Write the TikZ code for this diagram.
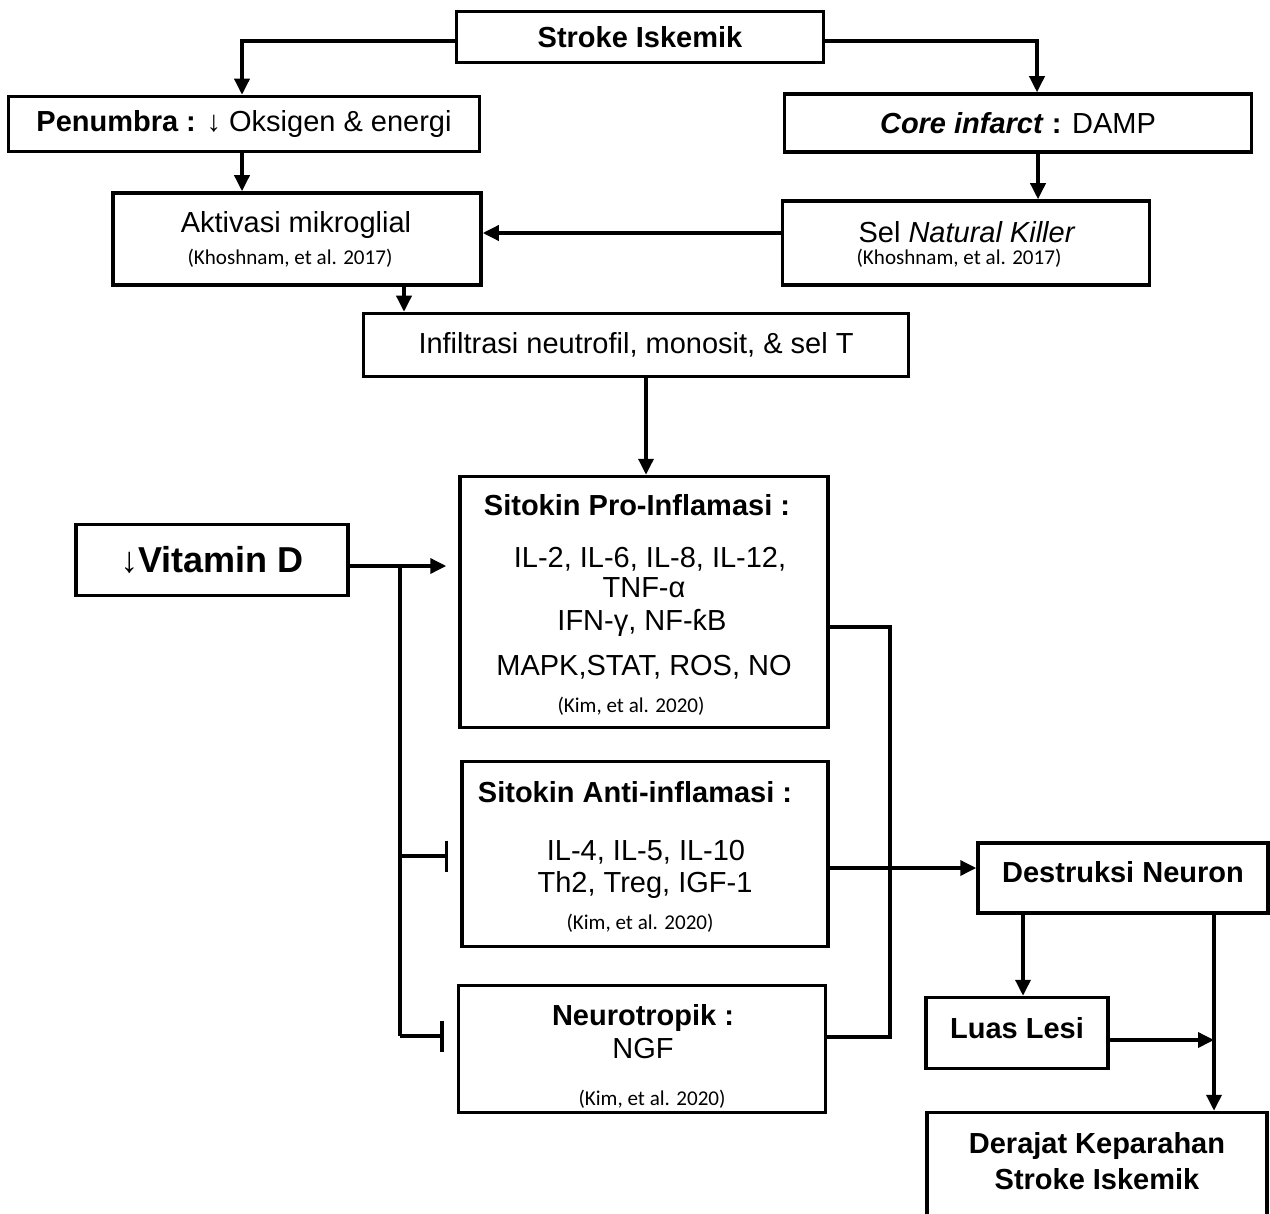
\documentclass[tikz,border=0pt]{standalone}
\usepackage{fontspec}
\setmainfont{Liberation Sans}
\newfontfamily\citefont{Carlito}
\usetikzlibrary{arrows.meta}

\newcommand{\px}{0.02cm}

\begin{document}
\begin{tikzpicture}[x=0.02cm, y=-0.02cm,
  box/.style={draw, line width=2pt, inner sep=0pt,
    font=\fontsize{16.5}{19.8}\selectfont},
  txt/.style={anchor=base, inner sep=0pt, font=\fontsize{16.5}{19.8}\selectfont},
  cite/.style={anchor=base, inner sep=0pt, font=\citefont\fontsize{12}{14}\selectfont},
  link/.style={line width=2pt, -{Triangle[length=0.32cm, width=0.3cm]}},
  plain/.style={line width=2pt},
  block/.style={line width=2pt, -{Bar[width=0.62cm]}}]
\useasboundingbox (0,0) rectangle (1270,1213);

% top of the chart
\node[box, minimum width=367*\px, minimum height=51*\px] (stroke) at (640,37) {\textbf{Stroke Iskemik}};
\node[box, minimum width=471*\px, minimum height=55*\px] (penumbra) at (244,124) {\textbf{Penumbra :} ↓ Oksigen \& energi};
\node[box, minimum width=467*\px, minimum height=58*\px] (core) at (1018,123) {\textbf{\textit{Core infarct} :} DAMP};

\node[box, minimum width=368*\px, minimum height=92*\px] (aktivasi) at (297,239) {};
\node[txt] (aktivasi-t) at (296,233) {Aktivasi mikroglial};
\node[cite] (aktivasi-c) at (290,264) {(Khoshnam, et al. 2017)};

\node[box, minimum width=367*\px, minimum height=84*\px] (nk) at (966,243) {};
\node[txt] (nk-t) at (967,242) {Sel \textit{Natural Killer}};
\node[cite] (nk-c) at (959,264) {(Khoshnam, et al. 2017)};

\node[box, minimum width=545*\px, minimum height=63*\px] (infiltrasi) at (636,345) {Infiltrasi neutrofil, monosit, \& sel T};

% cytokines
\node[box, minimum width=272*\px, minimum height=71*\px, font=\fontsize{20.5}{24}\selectfont] (vitd) at (212,560) {↓\textbf{Vitamin D}};

\node[box, minimum width=368*\px, minimum height=251*\px] (pro) at (644,602) {};
\node[txt, font=\fontsize{16.5}{19.8}\selectfont\bfseries] (pro-t) at (637,515) {Sitokin Pro-Inflamasi :};
\node[txt] (pro-1) at (650,567) {IL-2, IL-6, IL-8, IL-12,};
\node[txt] (pro-2) at (644,597) {TNF-α};
\node[txt] (pro-3) at (642,630) {IFN-γ, NF-ƙB};
\node[txt] (pro-4) at (644,675) {MAPK,STAT, ROS, NO};
\node[cite] (pro-c) at (631,712) {(Kim, et al. 2020)};

\node[box, minimum width=366*\px, minimum height=185*\px] (anti) at (645,854) {};
\node[txt, font=\fontsize{16.5}{19.8}\selectfont\bfseries] (anti-t) at (635,802) {Sitokin Anti-inflamasi :};
\node[txt] (anti-1) at (646,860) {IL-4, IL-5, IL-10};
\node[txt] (anti-2) at (645,892) {Th2, Treg, IGF-1};
\node[cite] (anti-c) at (640,929) {(Kim, et al. 2020)};

\node[box, minimum width=367*\px, minimum height=127*\px] (neuro) at (642,1049) {};
\node[txt, font=\fontsize{16.5}{19.8}\selectfont\bfseries] (neuro-t) at (643,1025) {Neurotropik :};
\node[txt] (neuro-1) at (643,1058) {NGF};
\node[cite] (neuro-c) at (652,1105) {(Kim, et al. 2020)};

% outcome
\node[box, minimum width=290*\px, minimum height=70*\px, text depth=12*\px, font=\fontsize{16.5}{19.8}\selectfont\bfseries] (destruksi) at (1123,878) {Destruksi Neuron};
\node[box, minimum width=182*\px, minimum height=71*\px, text depth=10*\px, font=\fontsize{16.5}{19.8}\selectfont\bfseries] (luas) at (1017,1033) {Luas Lesi};
\node[box, minimum width=340*\px, minimum height=127*\px] (derajat) at (1097,1176) {};
\node[txt, font=\fontsize{16.5}{19.8}\selectfont\bfseries] (derajat-1) at (1097,1153) {Derajat Keparahan};
\node[txt, font=\fontsize{16.5}{19.8}\selectfont\bfseries] (derajat-2) at (1097,1189) {Stroke Iskemik};

\coordinate (split) at (400,566);
\coordinate (merge) at (1214,1040);

\draw[link] (stroke.west |- 0,41) -| (242,0 |- penumbra.north);
\draw[link] (stroke.east |- 0,41) -| (1037,0 |- core.north);
\draw[link] (242,0 |- penumbra.south) -- (242,0 |- aktivasi.north);
\draw[link] (1038,0 |- core.south) -- (1038,0 |- nk.north);
\draw[link] (nk.west |- 0,233) -- (aktivasi.east |- 0,233);
\draw[link] (404,0 |- aktivasi.south) -- (404,0 |- infiltrasi.north);
\draw[link] (646,0 |- infiltrasi.south) -- (646,0 |- pro.north);

\draw[link, shorten >=0.24cm] (vitd.east |- split) -- (pro.west |- split);
\draw[plain] (split) -- (split |- 0,1036);
\draw[block, shorten >=0.24cm] (split |- 0,856) -- (anti.west |- 0,856);
\draw[block, shorten >=0.26cm] (split |- 0,1036) -- (neuro.west |- 0,1036);

\draw[plain] (pro.east |- 0,627) -| (890,1037) -- (neuro.east |- 0,1037);
\draw[link] (anti.east |- 0,868) -- (destruksi.west |- 0,868);

\draw[link] (1023,0 |- destruksi.south) -- (1023,0 |- luas.north);
\draw[link] (merge |- destruksi.south) -- (merge |- derajat.north);
\draw[link] (luas.east |- merge) -- (merge);
\end{tikzpicture}
\end{document}
